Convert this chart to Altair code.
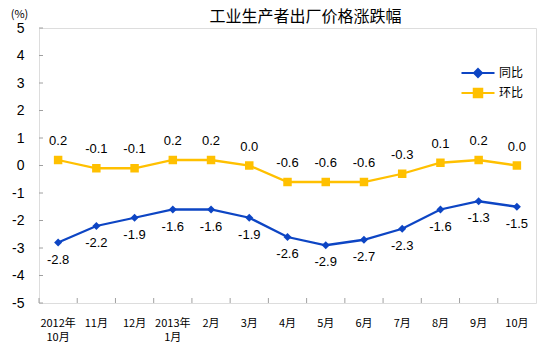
import altair as alt
import pandas as pd

categories = ["2012年\n10月", "11月", "12月", "2013年\n1月", "2月", "3月", "4月",
              "5月", "6月", "7月", "8月", "9月", "10月"]
tongbi = [-2.8, -2.2, -1.9, -1.6, -1.6, -1.9, -2.6, -2.9, -2.7, -2.3, -1.6, -1.3, -1.5]
huanbi = [0.2, -0.1, -0.1, 0.2, 0.2, 0.0, -0.6, -0.6, -0.6, -0.3, 0.1, 0.2, 0.0]
series_names = ["同比", "环比"]
series_colors = ["#0D45C4", "#FFC000"]
y_ticks = [-5, -4, -3, -2, -1, 0, 1, 2, 3, 4, 5]

rows = []
for c, v in zip(categories, tongbi):
    rows.append({"month": c, "series": "同比", "value": v, "label": f"{v:.1f}"})
for c, v in zip(categories, huanbi):
    rows.append({"month": c, "series": "环比", "value": v, "label": f"{v:.1f}"})
df = pd.DataFrame(rows)
df_t = df[df.series == "同比"]
df_h = df[df.series == "环比"]

W, H = 497, 275
xscale = alt.Scale(type="band", paddingInner=0, paddingOuter=0)
yscale = alt.Scale(domain=[-5, 5], nice=False, zero=False)
cscale = alt.Scale(domain=series_names, range=series_colors)

x_axis = alt.Axis(title=None, labelAngle=0, domain=False, ticks=False,
                  labelExpr="split(datum.label, '\\n')",
                  labelFont="Noto Sans CJK SC", labelFontSize=11,
                  labelColor="#000000", labelPadding=14, labelLineHeight=14,
                  labelFontWeight="normal", labelOverlap=False)
y_axis = alt.Axis(values=y_ticks, title="(%)", titleAngle=0, titleX=-20,
                  titleY=-9, titleFont="Noto Sans CJK SC", titleFontSize=11,
                  titleFontWeight="normal", titleColor="#000000",
                  grid=False, domain=False, ticks=False, labelPadding=15,
                  labelOverlap=False,
                  labelExpr="replace(datum.label, '\u2212', '-')",
                  labelFont="Liberation Sans", labelFontSize=14,
                  labelColor="#000000")


def xpos(band=0.5):
    return alt.X("month:N", sort=categories, scale=xscale, bandPosition=band, axis=x_axis)


def ypos():
    return alt.Y("value:Q", scale=yscale, axis=y_axis)


legend_shape = ("datum.value === '同比' ? "
                "'M-3.3,0H3.3M0,-0.8L0.8,0L0,0.8L-0.8,0Z' : "
                "'M-3.3,0H3.3M-0.85,-0.85H0.85V0.85H-0.85Z'")
legend_color = "scale('color', datum.value)"
legend = alt.Legend(orient="none", legendX=433, legendY=39, title=None,
                    labelFont="Noto Sans CJK SC", labelFontSize=12,
                    labelColor="#000000", symbolSize=100,
                    rowPadding=3, labelOffset=15,
                    symbolType=alt.ExprRef(expr=legend_shape),
                    symbolStrokeColor=alt.ExprRef(expr=legend_color),
                    symbolFillColor=alt.ExprRef(expr=legend_color),
                    symbolStrokeWidth=2, symbolOpacity=1)


def color():
    return alt.Color("series:N", scale=cscale, legend=legend)


lines = alt.Chart(df).mark_line(strokeWidth=2.3).encode(
    x=xpos(), y=ypos(), color=color(), detail="series:N")

pts_t = alt.Chart(df_t).mark_point(filled=True, opacity=1, size=64, shape="diamond").encode(
    x=xpos(), y=ypos(), color=color())
pts_h = alt.Chart(df_h).mark_point(filled=True, opacity=1, size=72, shape="square").encode(
    x=xpos(), y=ypos(), color=color())

text_t = alt.Chart(df_t).mark_text(dy=17, font="Liberation Sans", fontSize=13,
                                   color="#000000").encode(
    x=xpos(), y=ypos(), text="label:N")
text_h = alt.Chart(df_h).mark_text(dy=-19, font="Liberation Sans", fontSize=13,
                                   color="#000000").encode(
    x=xpos(), y=ypos(), text="label:N")

xticks = alt.Chart(pd.DataFrame({"month": categories})).mark_rule(
    color="#A0A0A0", strokeWidth=1).encode(
    x=xpos(0), y=alt.value(H), y2=alt.value(H - 5))
yticks = alt.Chart(pd.DataFrame({"value": y_ticks})).mark_rule(
    color="#A0A0A0", strokeWidth=1).encode(
    y=ypos(), x=alt.value(0), x2=alt.value(4))

chart = alt.layer(lines, pts_t, pts_h, text_t, text_h, xticks, yticks).properties(
    width=W, height=H,
    title=alt.TitleParams("工业生产者出厂价格涨跌幅", font="Noto Sans CJK SC",
                          fontSize=16, fontWeight="normal", color="#000000",
                          anchor="middle", dx=18, dy=17, offset=0),
    autosize=alt.AutoSizeParams(type="none"),
    padding={"left": 39, "top": 28, "right": 14, "bottom": 50},
).configure_view(stroke="#A6A6A6", strokeWidth=1.2).configure_axis(
    labelOverlap=False
).configure(background="#FFFFFF")

chart.save("out.html", embed_options={"renderer": "svg", "actions": False})
